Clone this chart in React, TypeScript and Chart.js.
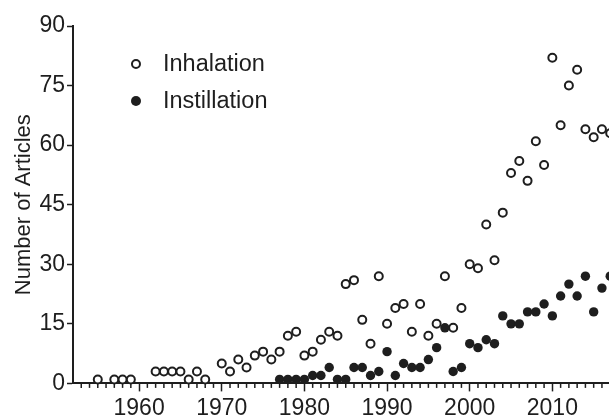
import React, { useEffect, useRef } from "react";
import { Chart, registerables } from "chart.js";

Chart.register(...registerables);

const inhalationYears = [1955, 1957, 1958, 1959, 1962, 1963, 1964, 1965, 1966, 1967, 1968,
  1970, 1971, 1972, 1973, 1974, 1975, 1976, 1977, 1978, 1979,
  1980, 1981, 1982, 1983, 1984, 1985, 1986, 1987, 1988, 1989,
  1990, 1991, 1992, 1993, 1994, 1995, 1996, 1997, 1998, 1999,
  2000, 2001, 2002, 2003, 2004, 2005, 2006, 2007, 2008, 2009,
  2010, 2011, 2012, 2013, 2014, 2015, 2016, 2017];
const inhalationValues = [1, 1, 1, 1, 3, 3, 3, 3, 1, 3, 1,
  5, 3, 6, 4, 7, 8, 6, 8, 12, 13,
  7, 8, 11, 13, 12, 25, 26, 16, 10, 27,
  15, 19, 20, 13, 20, 12, 15, 27, 14, 19,
  30, 29, 40, 31, 43, 53, 56, 51, 61, 55,
  82, 65, 75, 79, 64, 62, 64, 63];

const instillationYears = [1977, 1978, 1979,
  1980, 1981, 1982, 1983, 1984, 1985, 1986, 1987, 1988, 1989,
  1990, 1991, 1992, 1993, 1994, 1995, 1996, 1997, 1998, 1999,
  2000, 2001, 2002, 2003, 2004, 2005, 2006, 2007, 2008, 2009,
  2010, 2011, 2012, 2013, 2014, 2015, 2016, 2017];
const instillationValues = [1, 1, 1,
  1, 2, 2, 4, 1, 1, 4, 4, 2, 3,
  8, 2, 5, 4, 4, 6, 9, 14, 3, 4,
  10, 9, 11, 10, 17, 15, 15, 18, 18, 20,
  17, 22, 25, 22, 27, 18, 24, 27];

const seriesNames = ["Inhalation", "Instillation"];
const yTicks = [0, 15, 30, 45, 60, 75, 90];
const xMin = 1952;
const xMax = 2020;

const FONT = "'Liberation Sans', Arial, sans-serif";
const INK = "#1e1e1e";

const minorTicks = {
  id: "minorTicks",
  afterDraw(chart: any) {
    const x = chart.scales.x;
    const ctx = chart.ctx;
    const bottom = chart.chartArea.bottom;
    ctx.save();
    ctx.strokeStyle = INK;
    ctx.lineWidth = 1.5;
    for (let yr = xMin + 1; yr < xMax; yr++) {
      if (yr % 10 === 0) continue;
      const px = x.getPixelForValue(yr);
      ctx.beginPath();
      ctx.moveTo(px, bottom);
      ctx.lineTo(px, bottom + 4.5);
      ctx.stroke();
    }
    ctx.restore();
  },
};

const innerLegend = {
  id: "innerLegend",
  afterDraw(chart: any) {
    const ctx = chart.ctx;
    const { left, top } = chart.chartArea;
    ctx.save();
    ctx.font = `23.5px ${FONT}`;
    ctx.textBaseline = "middle";
    const rows = [top + 38, top + 75];
    const cx = left + 63;
    ctx.beginPath();
    ctx.arc(cx, rows[0], 4, 0, Math.PI * 2);
    ctx.fillStyle = "#fff";
    ctx.fill();
    ctx.lineWidth = 2;
    ctx.strokeStyle = INK;
    ctx.stroke();
    ctx.beginPath();
    ctx.arc(cx, rows[1], 5, 0, Math.PI * 2);
    ctx.fillStyle = INK;
    ctx.fill();
    ctx.fillText(seriesNames[0], left + 90, rows[0] + 1);
    ctx.fillText(seriesNames[1], left + 90, rows[1] + 1);
    ctx.restore();
  },
};

export default function App() {
  const ref = useRef<HTMLCanvasElement | null>(null);

  useEffect(() => {
    if (!ref.current) return;
    const chart = new Chart(ref.current, {
      type: "scatter",
      data: {
        datasets: [
          {
            label: seriesNames[1],
            data: instillationYears.map((y, i) => ({ x: y, y: instillationValues[i] })),
            pointRadius: 4.7,
            pointBorderWidth: 0,
            backgroundColor: INK,
            borderColor: INK,
            clip: false,
          },
          {
            label: seriesNames[0],
            data: inhalationYears.map((y, i) => ({ x: y, y: inhalationValues[i] })),
            pointRadius: 4,
            pointBorderWidth: 2,
            backgroundColor: "#fff",
            borderColor: INK,
            clip: false,
          },
        ],
      },
      options: {
        responsive: false,
        animation: false,
        devicePixelRatio: 1,
        layout: { padding: { left: 11, top: 26, right: 45, bottom: 0 } },
        plugins: { legend: { display: false }, tooltip: { enabled: false } },
        scales: {
          x: {
            type: "linear",
            min: xMin,
            max: xMax,
            ticks: {
              stepSize: 10,
              includeBounds: false,
              font: { family: FONT, size: 23 },
              color: INK,
              padding: 3,
              callback: (v: any) => String(v),
            },
            grid: {
              display: true,
              drawOnChartArea: false,
              tickLength: 8,
              tickColor: INK,
              tickWidth: 1.5,
            },
            border: { color: INK, width: 2 },
          },
          y: {
            min: 0,
            max: 90,
            afterBuildTicks: (axis: any) => {
              axis.ticks = yTicks.map((v) => ({ value: v }));
            },
            ticks: {
              font: { family: FONT, size: 23 },
              color: INK,
              padding: 2,
              callback: (v: any) => String(v),
            },
            grid: {
              display: true,
              drawOnChartArea: false,
              tickLength: 6,
              tickColor: INK,
              tickWidth: 1.5,
            },
            border: { color: INK, width: 2 },
            title: {
              display: true,
              text: "Number of Articles",
              font: { family: FONT, size: 22 },
              color: INK,
              padding: { top: 0, bottom: 0 },
            },
          },
        },
      },
      plugins: [minorTicks, innerLegend],
    } as any);
    return () => chart.destroy();
  }, []);

  return (
    <div
      style={{
        position: "fixed",
        left: 0,
        top: 0,
        width: 609,
        height: 417,
        overflow: "hidden",
        background: "#fff",
      }}
    >
      <canvas ref={ref} width={680} height={425} style={{ display: "block" }} />
    </div>
  );
}
